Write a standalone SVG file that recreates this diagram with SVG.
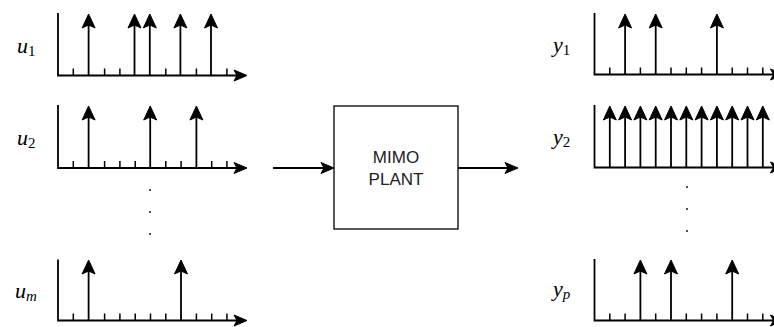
<svg xmlns="http://www.w3.org/2000/svg" xmlns:xlink="http://www.w3.org/1999/xlink" width="774" height="327" viewBox="0 0 774 327">
<defs>
<style>
.ax{stroke:#000;stroke-width:1.8;fill:none}
.tk{stroke:#000;stroke-width:1.5;fill:none}
.st{stroke:#000;stroke-width:1.8;fill:none}
.hd{fill:#000;stroke:#000;stroke-width:1;stroke-linejoin:miter}
.lbl{font-family:"Liberation Serif","DejaVu Serif",serif;font-size:22px;font-style:italic;fill:#000}
.sub{font-style:normal;font-size:15px}
.subi{font-style:italic;font-size:15px}
.box{fill:#fff;stroke:#000;stroke-width:1.3}
.bt{font-family:"Liberation Sans",Arial,sans-serif;font-size:17px;fill:#222;text-anchor:middle}
.dot{fill:#000}
</style>
<path id="vh" class="hd" d="M0,0 L6.5,14 L0,11 L-6.5,14 Z"/>
<path id="hh" class="hd" d="M0,0 L-13,-5.5 L-10,0 L-13,5.5 Z"/>
</defs>
<rect width="774" height="327" fill="#fff"/>

<!-- u1 -->
<g id="u1">
<text class="lbl" x="17" y="53">u<tspan class="sub" dy="3">1</tspan></text>
<path class="ax" d="M58,13 V75.5 H238"/>
<use xlink:href="#hh" x="247" y="75.5"/>
<path class="tk" d="M73.3,68.5V75.5 M104.6,68.5V75.5 M119.9,68.5V75.5 M165.8,68.5V75.5 M196.4,68.5V75.5 M226.9,68.5V75.5"/>
<path class="st" d="M88.6,75.5V25 M134.5,75.5V25 M149.8,75.5V25 M180.4,75.5V25 M211,75.5V25"/>
<use xlink:href="#vh" x="88.6" y="14"/>
<use xlink:href="#vh" x="134.5" y="14"/>
<use xlink:href="#vh" x="149.8" y="14"/>
<use xlink:href="#vh" x="180.4" y="14"/>
<use xlink:href="#vh" x="211" y="14"/>
</g>

<!-- u2 -->
<g id="u2">
<text class="lbl" x="17" y="145">u<tspan class="sub" dy="3">2</tspan></text>
<path class="ax" d="M58,105 V168 H238"/>
<use xlink:href="#hh" x="247" y="168"/>
<path class="tk" d="M73.3,161V168 M104.6,161V168 M119.9,161V168 M135.2,161V168 M165.8,161V168 M181.1,161V168 M211.7,161V168 M226.9,161V168"/>
<path class="st" d="M88.6,168V117 M150.2,168V117 M196.4,168V117"/>
<use xlink:href="#vh" x="88.6" y="106"/>
<use xlink:href="#vh" x="150.2" y="106"/>
<use xlink:href="#vh" x="196.4" y="106"/>
</g>

<g id="udots">
<circle class="dot" cx="150" cy="190" r="0.9"/>
<circle class="dot" cx="150" cy="212" r="0.9"/>
<circle class="dot" cx="150" cy="234" r="0.9"/>
</g>

<!-- um -->
<g id="um">
<text class="lbl" x="15" y="298">u<tspan class="subi" dy="3">m</tspan></text>
<path class="ax" d="M58,259.5 V320.5 H238"/>
<use xlink:href="#hh" x="247" y="320.5"/>
<path class="tk" d="M73.3,313.5V320.5 M104.6,313.5V320.5 M119.9,313.5V320.5 M135.2,313.5V320.5 M150.5,313.5V320.5 M165.8,313.5V320.5 M196.4,313.5V320.5 M211.7,313.5V320.5 M226.9,313.5V320.5"/>
<path class="st" d="M88.6,320.5V271 M181,320.5V271"/>
<use xlink:href="#vh" x="88.6" y="260"/>
<use xlink:href="#vh" x="181" y="260"/>
</g>

<!-- plant -->
<g id="plant">
<rect class="box" x="334" y="106" width="124" height="123"/>
<text class="bt" x="396" y="163">MIMO</text>
<text class="bt" x="396" y="185">PLANT</text>
</g>

<g id="connectors">
<path class="st" d="M273,168H324"/>
<use xlink:href="#hh" x="334" y="168"/>
<path class="st" d="M458,168H508"/>
<use xlink:href="#hh" x="518" y="168"/>
</g>

<!-- y1 -->
<g id="y1">
<text class="lbl" x="553" y="52">y<tspan class="sub" dy="3">1</tspan></text>
<path class="ax" d="M594.5,13 V74.5 H776"/>
<use xlink:href="#hh" x="783.5" y="74.5"/>
<path class="tk" d="M609.8,67.5V74.5 M640.4,67.5V74.5 M671,67.5V74.5 M686.3,67.5V74.5 M701.6,67.5V74.5 M732.2,67.5V74.5 M747.5,67.5V74.5 M762.8,67.5V74.5"/>
<path class="st" d="M625.1,74.5V25 M655.7,74.5V25 M716.9,74.5V25"/>
<use xlink:href="#vh" x="625.1" y="14"/>
<use xlink:href="#vh" x="655.7" y="14"/>
<use xlink:href="#vh" x="716.9" y="14"/>
</g>

<!-- y2 -->
<g id="y2">
<text class="lbl" x="553" y="144">y<tspan class="sub" dy="3">2</tspan></text>
<path class="ax" d="M594.5,105 V167.5 H776"/>
<use xlink:href="#hh" x="783.5" y="167.5"/>
<path class="st" d="M609.8,167.5V117 M625.1,167.5V117 M640.4,167.5V117 M655.7,167.5V117 M671,167.5V117 M686.3,167.5V117 M701.6,167.5V117 M716.9,167.5V117 M732.2,167.5V117 M747.5,167.5V117 M762.8,167.5V117"/>
<use xlink:href="#vh" x="609.8" y="106"/>
<use xlink:href="#vh" x="625.1" y="106"/>
<use xlink:href="#vh" x="640.4" y="106"/>
<use xlink:href="#vh" x="655.7" y="106"/>
<use xlink:href="#vh" x="671" y="106"/>
<use xlink:href="#vh" x="686.3" y="106"/>
<use xlink:href="#vh" x="701.6" y="106"/>
<use xlink:href="#vh" x="716.9" y="106"/>
<use xlink:href="#vh" x="732.2" y="106"/>
<use xlink:href="#vh" x="747.5" y="106"/>
<use xlink:href="#vh" x="762.8" y="106"/>
</g>

<g id="ydots">
<circle class="dot" cx="687" cy="187" r="0.9"/>
<circle class="dot" cx="687" cy="209" r="0.9"/>
<circle class="dot" cx="687" cy="231" r="0.9"/>
</g>

<!-- yp -->
<g id="yp">
<text class="lbl" x="553" y="296">y<tspan class="subi" dy="3">p</tspan></text>
<path class="ax" d="M594.5,259 V320.5 H776"/>
<use xlink:href="#hh" x="783.5" y="320.5"/>
<path class="tk" d="M609.8,313.5V320.5 M625.1,313.5V320.5 M655.7,313.5V320.5 M686.3,313.5V320.5 M701.6,313.5V320.5 M716.9,313.5V320.5 M747.5,313.5V320.5 M762.8,313.5V320.5"/>
<path class="st" d="M640.4,320.5V271 M671,320.5V271 M732.2,320.5V271"/>
<use xlink:href="#vh" x="640.4" y="260"/>
<use xlink:href="#vh" x="671" y="260"/>
<use xlink:href="#vh" x="732.2" y="260"/>
</g>
</svg>
